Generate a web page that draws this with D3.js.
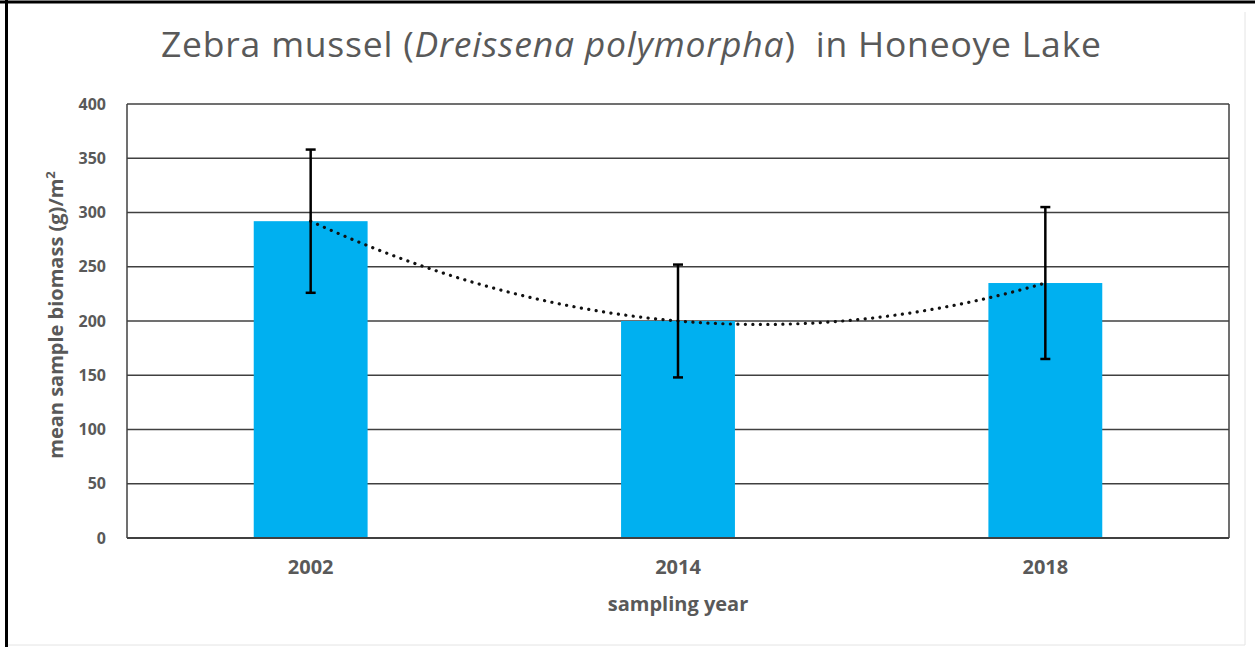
<!DOCTYPE html>
<html>
<head>
<meta charset="utf-8">
<script src="https://cdn.jsdelivr.net/npm/d3@7"></script>
<style>
  body { margin: 0; background: #fff; }
  svg { display: block; font-family: "Open Sans", sans-serif; }
</style>
</head>
<body>
<div id="chart"></div>
<script>
// data
var years = ["2002", "2014", "2018"];
var biomass = [292, 200, 235];
var errors = [66, 52, 70];
var yTicks = [0, 50, 100, 150, 200, 250, 300, 350, 400];

var W = 1255, H = 647;
var margin = {top: 104, right: 26, bottom: 109, left: 127};
var plotW = W - margin.left - margin.right,
    plotH = H - margin.top - margin.bottom;

var svg = d3.select("#chart").append("svg")
  .attr("width", W).attr("height", H);

// outer frame
svg.append("line").attr("x1", 0).attr("x2", W).attr("y1", 2).attr("y2", 2)
  .attr("stroke", "#000").attr("stroke-width", 3);
svg.append("line").attr("x1", 6.5).attr("x2", 6.5).attr("y1", 0).attr("y2", H)
  .attr("stroke", "#000").attr("stroke-width", 3);
svg.append("line").attr("x1", 1245).attr("x2", 1245).attr("y1", 12).attr("y2", 645)
  .attr("stroke", "#e4e4e4").attr("stroke-width", 1);
svg.append("line").attr("x1", 8).attr("x2", 1245).attr("y1", 645).attr("y2", 645)
  .attr("stroke", "#e4e4e4").attr("stroke-width", 1);

// title
var title = svg.append("text")
  .attr("x", 161).attr("y", 57)
  .attr("textLength", 940).attr("lengthAdjust", "spacing")
  .style("font-size", "35.5px")
  .style("fill", "#595959");
title.append("tspan").text("Zebra mussel (");
title.append("tspan").style("font-style", "italic").text("Dreissena polymorpha");
title.append("tspan").text(")\u00a0 in Honeoye\u00a0Lake");

var g = svg.append("g").attr("transform", "translate(" + margin.left + "," + margin.top + ")");

var x = d3.scaleBand().domain(years).range([0, plotW]).paddingInner(0.69).paddingOuter(0.345);
var y = d3.scaleLinear().domain([0, 400]).range([plotH, 0]);

// gridlines
g.selectAll(".grid").data(yTicks).enter().append("line")
  .attr("x1", 0).attr("x2", plotW)
  .attr("y1", function(d) { return y(d); })
  .attr("y2", function(d) { return y(d); })
  .attr("stroke", "#404040").attr("stroke-width", 1.5);

// bars
g.selectAll(".bar").data(biomass).enter().append("rect")
  .attr("x", function(d, i) { return x(years[i]); })
  .attr("y", function(d) { return y(d); })
  .attr("width", x.bandwidth())
  .attr("height", function(d) { return plotH - y(d); })
  .attr("fill", "#00B0F0");

// plot border (left + right + bottom axis)
g.append("line").attr("x1", 0).attr("x2", 0).attr("y1", 0).attr("y2", plotH)
  .attr("stroke", "#404040").attr("stroke-width", 1.5);
g.append("line").attr("x1", plotW).attr("x2", plotW).attr("y1", 0).attr("y2", plotH)
  .attr("stroke", "#404040").attr("stroke-width", 1.5);
g.append("line").attr("x1", 0).attr("x2", plotW).attr("y1", plotH).attr("y2", plotH)
  .attr("stroke", "#404040").attr("stroke-width", 2);

// polynomial (order 2) trendline through the means, x = 1..n
var n = biomass.length;
var m0 = biomass[0], m1 = biomass[1], m2 = biomass[2];
var c2 = (m2 - 2 * m1 + m0) / 2, c1 = (m1 - m0) - c2 * 3, c0 = m0 - c1 - c2;
var trend = d3.range(1, n + 0.001, 0.02).map(function(t) {
  return [t, c0 + c1 * t + c2 * t * t];
});
var cx = function(t) {
  var a = x(years[0]) + x.bandwidth() / 2, b = x(years[n - 1]) + x.bandwidth() / 2;
  return a + (t - 1) * (b - a) / (n - 1);
};
g.append("path").datum(trend)
  .attr("d", d3.line().x(function(d) { return cx(d[0]); }).y(function(d) { return y(d[1]); }))
  .attr("fill", "none").attr("stroke", "#111")
  .attr("stroke-width", 3.2).attr("stroke-linecap", "round")
  .attr("stroke-dasharray", "0.1 7.4");

// error bars
var eb = g.selectAll(".err").data(biomass).enter().append("g")
  .attr("transform", function(d, i) { return "translate(" + (x(years[i]) + x.bandwidth() / 2) + ",0)"; });
eb.append("line").attr("x1", 0).attr("x2", 0)
  .attr("y1", function(d, i) { return y(d + errors[i]); })
  .attr("y2", function(d, i) { return y(d - errors[i]); })
  .attr("stroke", "#000").attr("stroke-width", 2.5);
eb.append("line").attr("x1", -5).attr("x2", 5)
  .attr("y1", function(d, i) { return y(d + errors[i]); })
  .attr("y2", function(d, i) { return y(d + errors[i]); })
  .attr("stroke", "#000").attr("stroke-width", 2.5);
eb.append("line").attr("x1", -5).attr("x2", 5)
  .attr("y1", function(d, i) { return y(d - errors[i]); })
  .attr("y2", function(d, i) { return y(d - errors[i]); })
  .attr("stroke", "#000").attr("stroke-width", 2.5);

// y axis labels
var yAxis = g.append("g").call(d3.axisLeft(y).tickValues(yTicks).tickSize(0).tickPadding(21));
yAxis.select(".domain").remove();
yAxis.selectAll("text")
  .style("font-family", "Open Sans, sans-serif")
  .style("font-size", "16px").style("font-weight", "bold").style("fill", "#595959");

// x axis labels
var xAxis = g.append("g").attr("transform", "translate(0," + plotH + ")")
  .call(d3.axisBottom(x).tickSize(0).tickPadding(22));
xAxis.select(".domain").remove();
xAxis.selectAll("text")
  .style("font-family", "Open Sans, sans-serif")
  .style("font-size", "20px").style("font-weight", "bold").style("fill", "#595959");

// axis titles
svg.append("text")
  .attr("x", margin.left + plotW / 2).attr("y", 611)
  .attr("text-anchor", "middle")
  .style("font-size", "20px").style("font-weight", "bold").style("fill", "#595959")
  .text("sampling year");

var yt = svg.append("text")
  .attr("transform", "translate(63," + (margin.top + plotH / 2 - 6) + ") rotate(-90)")
  .attr("text-anchor", "middle")
  .style("font-size", "20px").style("font-weight", "bold").style("fill", "#595959");
yt.append("tspan").text("mean sample biomass (g)/m");
yt.append("tspan").attr("dy", -8).style("font-size", "13px").text("2");
</script>
</body>
</html>
